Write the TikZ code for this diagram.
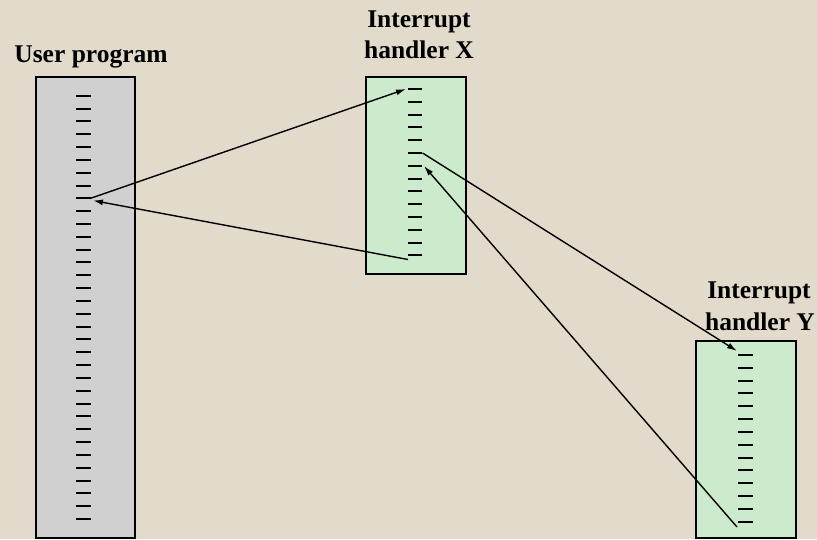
\documentclass[tikz,border=0pt]{standalone}
\usepackage{fontspec}
\setmainfont{Liberation Serif}
\usetikzlibrary{arrows.meta,calc}
\definecolor{bg}{RGB}{226,218,203}
\definecolor{boxgray}{RGB}{208,208,208}
\definecolor{boxgreen}{RGB}{204,235,204}
\begin{document}
\begin{tikzpicture}[x=1pt,y=-1pt,
  prog/.style={draw=black,line width=2pt,rectangle,inner sep=0pt},
  tick/.style={line width=2pt},
  lab/.style={font=\fontsize{25.5}{28}\selectfont\bfseries,anchor=base,inner sep=0pt},
  conn/.style={line width=1.4pt,-{Latex[length=10pt,width=6pt]}}]
\fill[bg] (0,0) rectangle (817,539);
\useasboundingbox (0,0) rectangle (817,539);
% boxes
\node[prog,fill=boxgray,minimum width=99pt,minimum height=461pt] (user) at (85.5,307) {};
\node[prog,fill=boxgreen,minimum width=100pt,minimum height=197pt] (hx) at (416,175.5) {};
\node[prog,fill=boxgreen,minimum width=100pt,minimum height=197pt] (hy) at (746,439.5) {};
% labels
\node[lab] (ulab) at (91,62) {User program};
\node[lab] (xlab1) at (419,27) {Interrupt};
\node[lab] (xlab2) at (419,58) {handler X};
\node[lab] (ylab1) at (759,298) {Interrupt};
\node[lab] (ylab2) at (760,330) {handler Y};
% ticks
\foreach \i in {1,...,34}{
  \pgfmathsetmacro\yy{round(95.7+(\i-1)*12.83)}
  \draw[tick] (76,\yy) coordinate (uw\i) -- (91,\yy) coordinate (ue\i);
}
\foreach \i in {1,...,14}{
  \pgfmathsetmacro\yy{round(89+(\i-1)*12.8)}
  \draw[tick] (408,\yy) coordinate (xw\i) -- (422,\yy) coordinate (xe\i);
}
\foreach \i in {1,...,14}{
  \pgfmathsetmacro\yy{round(355+(\i-1)*12.82)}
  \draw[tick] (738,\yy) coordinate (yw\i) -- (753,\yy) coordinate (ye\i);
}
% connectors
\draw[conn] ($(ue9)+(-1,0.5)$) -- ($(xw1)+(-2,0)$);
\draw[conn] ($(xw14)+(0,4.5)$) -- ($(ue9)+(2,2.5)$);
\draw[conn] ($(xe6)+(0.5,0)$) -- ($(yw1)+(-1,-4)$);
\draw[conn] ($(yw14)+(-1,5)$) -- ($(xe7)+(2,0)$);
\end{tikzpicture}
\end{document}
